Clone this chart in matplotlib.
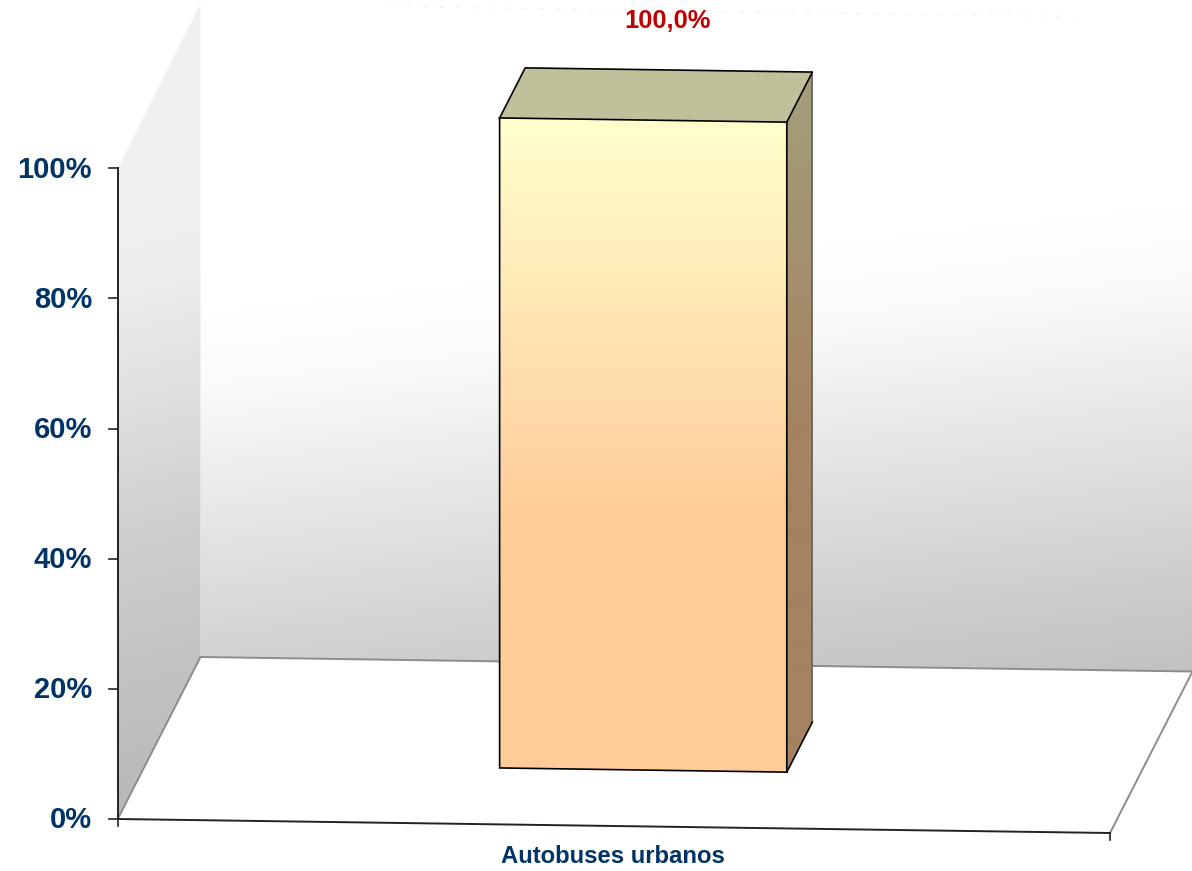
import numpy as np
import matplotlib
matplotlib.use('Agg')
import matplotlib.pyplot as plt
from matplotlib.colors import LinearSegmentedColormap
from matplotlib.patches import Polygon

plt.rcParams['font.family'] = ['Liberation Sans', 'DejaVu Sans']

## data
categories = ['Autobuses urbanos']
values = [100.0]
value_labels = ['100,0%']
yticks = [0, 20, 40, 60, 80, 100]
ytick_labels = ['0%', '20%', '40%', '60%', '80%', '100%']

W, H = 1192, 871
navy = '#003366'

fig = plt.figure(figsize=(W / 100, H / 100), dpi=100, facecolor='white')
ax = fig.add_axes([0, 0, 1, 1])
ax.set_xlim(0, W)
ax.set_ylim(H, 0)
ax.axis('off')

#--------- oblique projection of the 3d chart, in pixels
x0, x1 = 118, 1110        # plot width along the front edge
y0 = 818.5                # value 0 on the axis
px_per_unit = 6.5         # pixels per percent
tilt = 14.5 / 992         # the chart sags slightly to the right
dx, dy = 82.5, -161.5     # depth vector, front to back


def proj(frac, value=0, depth=0):
    # frac along the category axis, value in %, depth 0 (front) to 1 (back)
    x = x0 + frac * (x1 - x0)
    y = y0 - value * px_per_unit + tilt * (x - x0)
    return x + depth * dx, y + depth * dy


def gradient_poly(pts, pairs, angle=0.0, zorder=1):
    # fill a polygon with a gradient given as (pixel y, colour), tilted by angle
    lo, hi = pairs[0][0], pairs[-1][0]
    stops = [((y - lo) / (hi - lo), c) for y, c in pairs]
    cmap = LinearSegmentedColormap.from_list('g', stops)
    xs, ys = np.meshgrid(np.arange(W) + 0.5, np.arange(H) + 0.5)
    t = (ys + angle * (xs - W / 2) - lo) / (hi - lo)
    im = ax.imshow(np.clip(t, 0, 1), cmap=cmap, vmin=0, vmax=1, extent=(0, W, H, 0),
                   aspect='auto', zorder=zorder, interpolation='bilinear')
    im.set_clip_path(Polygon(np.array(pts), closed=True, transform=ax.transData))
    return im


#--------- walls
back_stops = [(270, '#ffffff'), (340, '#fbfbfb'), (420, '#efefef'), (520, '#e0e0e0'),
              (606, '#d3d3d3'), (685, '#c8c8c8'), (735, '#c2c2c2')]
gradient_poly([proj(0, 100.5, 1), (W, 0), (W, proj(1, 0, 1)[1]), proj(0, 0, 1)], back_stops, angle=0.11)

side_stops = [(100, '#f0f0f0'), (161, '#eeeeee'), (281, '#e0e0e0'), (411, '#d0d0d0'),
              (541, '#c4c4c4'), (700, '#b8b8b8')]
gradient_poly([proj(0, 0, 0), proj(0, 100, 0), proj(0, 100.5, 1), proj(0, 0, 1)], side_stops, angle=0.25)

# floor edges
for a, b in [(proj(0, 0, 1), proj(1, 0, 1)), (proj(0, 0, 0), proj(0, 0, 1)), (proj(1, 0, 0), proj(1, 0, 1))]:
    ax.plot([a[0], b[0]], [a[1], b[1]], color='#8c8c8c', lw=1.4, zorder=2)

# faint top edge of the back wall
a, b = proj(0.19, 100.5, 1), proj(0.88, 100.5, 1)
ax.plot([a[0], b[0]], [a[1], b[1]], color='#f4f4f4', lw=1, ls=(0, (4, 8)), zorder=2)

#--------- bar
bar_l, bar_r = 0.356, 0.6455
d0, d1 = 0.345, 0.655
for cat, val, lab in zip(categories, values, value_labels):
    fl, fr = proj(bar_l, 0, d0), proj(bar_r, 0, d0)
    tl, tr = proj(bar_l, val, d0), proj(bar_r, val, d0)
    bl, br = proj(bar_l, val, d1), proj(bar_r, val, d1)
    fbr = proj(bar_r, 0, d1)

    front_stops = [(118, '#ffffcc'), (520, '#ffcc99'), (772, '#ffcc99')]
    gradient_poly([tl, tr, fr, fl], front_stops, zorder=3)
    side_bar = [(72, '#a3a37e'), (475, '#a58260'), (772, '#a58260')]
    gradient_poly([tr, br, fbr, fr], side_bar, angle=0.2, zorder=3)
    ax.add_patch(Polygon([tl, bl, br, tr], closed=True, fc='#c0c09a', ec='none', zorder=3))

    pts = np.array([br, fbr])
    ax.plot(pts[:, 0], pts[:, 1], color='#666666', lw=1.3, zorder=4)
    for pts in ([tl, tr, fr, fl, tl], [tl, bl, br, tr], [fbr, fr]):
        pts = np.array(pts)
        ax.plot(pts[:, 0], pts[:, 1], color='black', lw=1.2, zorder=4, solid_joinstyle='miter')

    ax.text(668, 21, lab, color='#c00000', fontsize=18.4, fontweight='bold', ha='center', va='center', zorder=5)
    ax.text(613, 856, cat, color=navy, fontsize=17.2, fontweight='bold', ha='center', va='center', zorder=5)

#--------- axes
ax.plot([x0, x0], [y0 - 100 * px_per_unit, y0], color='#222222', lw=1.4, zorder=6)
a, b = proj(0), proj(1)
ax.plot([a[0], b[0]], [a[1] + 0.5, b[1]], color='#222222', lw=1.4, zorder=6)
for t, lab in zip(yticks, ytick_labels):
    y = y0 - t * px_per_unit
    ax.plot([x0 - 9, x0], [y, y], color='#222222', lw=1.2, zorder=6)
    ax.text(92, y + 1, lab, color=navy, fontsize=21, fontweight='bold', ha='right', va='center', zorder=6)
for frac in (0, 1):
    x, y = proj(frac)
    ax.plot([x, x], [y, y + 7], color='#222222', lw=1.2, zorder=6)

fig.savefig('out.png', dpi=100, facecolor='white')
